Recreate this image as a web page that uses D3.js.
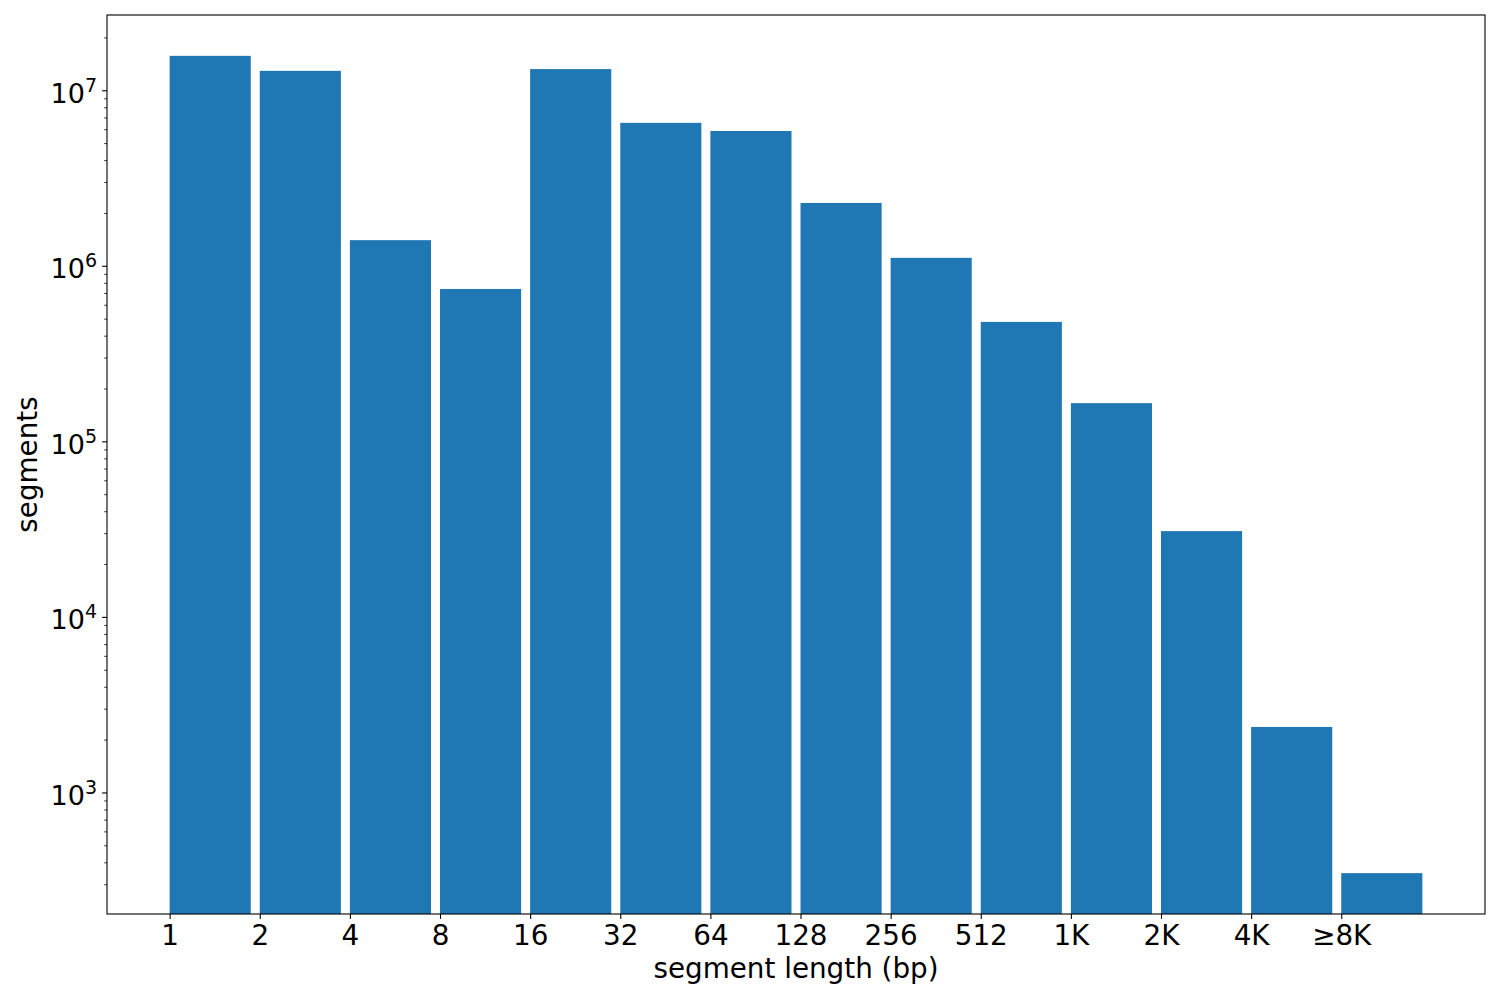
<!DOCTYPE html>
<html>
<head>
<meta charset="utf-8">
<script src="https://cdn.jsdelivr.net/npm/d3@7"></script>
<style>
  body { margin: 0; background: #fff; }
  text { font-family: "DejaVu Sans", sans-serif; fill: #000; }
</style>
</head>
<body>
<script>
// segment length bins (tick labels) and segment counts
const categories = ["1", "2", "4", "8", "16", "32", "64", "128", "256", "512", "1K", "2K", "4K", "\u22658K"];
const counts = [1.57e7, 1.29e7, 1.40e6, 7.38e5, 1.32e7, 6.52e6, 5.86e6, 2.28e6, 1.11e6, 4.79e5, 1.65e5, 3.08e4, 2.36e3, 347];
const yMajorTicks = [1e3, 1e4, 1e5, 1e6, 1e7];

const w = 1500, h = 1000;
const plotLeft = 107, plotRight = 1485, plotTop = 15, plotBottom = 914;
const barWidth = 0.9;
const blue = "#1f77b4";

const svg = d3.select("body").append("svg")
    .attr("width", w)
    .attr("height", h);

// x in "bar index" units, bars aligned on their left edge, 5% margins
let xMax = counts.length - 1 + barWidth;
let xPad = xMax * 0.05;
let xScale = d3.scaleLinear()
    .domain([-xPad, xMax + xPad])
    .range([plotLeft, plotRight]);

// y log scale, 5% margins in log space
let lmin = Math.log10(d3.min(counts)), lmax = Math.log10(d3.max(counts));
let lpad = (lmax - lmin) * 0.05;
let yScale = d3.scaleLog()
    .domain([Math.pow(10, lmin - lpad), Math.pow(10, lmax + lpad)])
    .range([plotBottom, plotTop]);

// bars
svg.append("g").selectAll("rect")
    .data(counts)
    .enter()
    .append("rect")
    .attr("x", function (d, i) { return xScale(i); })
    .attr("width", function (d, i) { return xScale(i + barWidth) - xScale(i); })
    .attr("y", function (d) { return yScale(d); })
    .attr("height", function (d) { return plotBottom - yScale(d); })
    .attr("fill", blue);

// minor ticks on y (2..9 x 10^k)
let dom = yScale.domain();
let minor = [];
for (let e = Math.floor(Math.log10(dom[0])); e <= Math.ceil(Math.log10(dom[1])); e++) {
    for (let k = 2; k <= 9; k++) {
        let v = k * Math.pow(10, e);
        if (v >= dom[0] && v <= dom[1]) minor.push(v);
    }
}
svg.append("g")
    .attr("transform", "translate(" + plotLeft + ",0)")
    .call(d3.axisLeft(yScale).tickValues(minor).tickFormat("").tickSize(2.8).tickSizeOuter(0))
    .call(g => g.select(".domain").remove())
    .call(g => g.selectAll("line").attr("stroke-width", 0.8));

// major ticks on y with 10^k labels
let yAxis = svg.append("g")
    .attr("transform", "translate(" + plotLeft + ",0)")
    .call(d3.axisLeft(yScale).tickValues(yMajorTicks).tickSize(4.9).tickSizeOuter(0))
    .call(g => g.select(".domain").remove())
    .call(g => g.selectAll("line").attr("stroke-width", 1.1));
yAxis.selectAll(".tick text")
    .attr("x", -10)
    .attr("dy", null)
    .attr("y", 12)
    .attr("font-size", 27)
    .attr("font-family", "DejaVu Sans")
    .text(null)
    .each(function (d) {
        let t = d3.select(this);
        t.append("tspan").text("10");
        t.append("tspan").attr("dy", -11).attr("font-size", 19).text(Math.round(Math.log10(d)));
    });

// x ticks
let xAxis = svg.append("g")
    .attr("transform", "translate(0," + plotBottom + ")")
    .call(d3.axisBottom(xScale)
        .tickValues(d3.range(categories.length))
        .tickFormat(function (i) { return categories[i]; })
        .tickSize(4.9).tickSizeOuter(0))
    .call(g => g.select(".domain").remove())
    .call(g => g.selectAll("line").attr("stroke-width", 1.1));
xAxis.selectAll(".tick text")
    .attr("y", 31)
    .attr("dy", null)
    .attr("font-size", 27.8)
    .attr("font-family", "DejaVu Sans");

// frame
svg.append("rect")
    .attr("x", plotLeft)
    .attr("y", plotTop)
    .attr("width", plotRight - plotLeft)
    .attr("height", plotBottom - plotTop)
    .attr("fill", "none")
    .attr("stroke", "#000")
    .attr("stroke-width", 1.1);

// axis labels
svg.append("text")
    .attr("x", (plotLeft + plotRight) / 2)
    .attr("y", 978)
    .attr("text-anchor", "middle")
    .attr("font-size", 27.8)
    .text("segment length (bp)");
svg.append("text")
    .attr("transform", "translate(37," + (plotTop + plotBottom) / 2 + ") rotate(-90)")
    .attr("text-anchor", "middle")
    .attr("font-size", 27.8)
    .text("segments");
</script>
</body>
</html>
